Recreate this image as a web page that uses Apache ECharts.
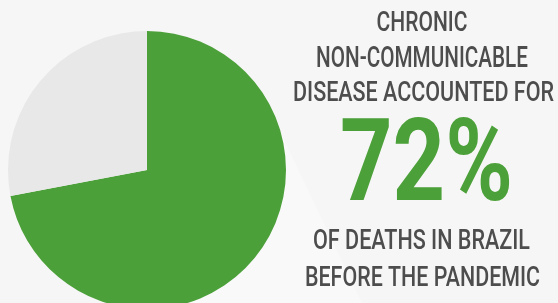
<!DOCTYPE html>
<html>
<head>
    <meta charset="utf-8">
    <script src="https://cdn.jsdelivr.net/npm/echarts@6/dist/echarts.min.js"></script>
    <style>
        html, body { margin: 0; padding: 0; background: #f6f6f6; }
    </style>
</head>
<body>
    <div id="main" style="width: 558px;height:303px;"></div>
    <script>
        // data
        var sliceNames = ['Chronic non-communicable disease', 'Other causes'];
        var sliceValues = [72, 28];
        var sliceColors = ['#4ca039', '#e8e8e8'];
        var headLines = ['CHRONIC', 'NON-COMMUNICABLE', 'DISEASE ACCOUNTED FOR'];
        var bigText = '72%';
        var footLines = ['OF DEATHS IN BRAZIL', 'BEFORE THE PANDEMIC'];

        var ctx = document.createElement('canvas').getContext('2d');
        // squeeze Roboto so it looks like a condensed face, to a target width
        function fitText(text, cx, cy, size, weight, width, color) {
            var font = weight + ' ' + size + 'px Roboto';
            ctx.font = font;
            var w = ctx.measureText(text).width;
            return {
                type: 'text',
                x: cx,
                y: cy,
                scaleX: width / w,
                silent: true,
                style: {
                    text: text,
                    font: font,
                    fill: color,
                    align: 'center',
                    verticalAlign: 'middle'
                }
            };
        }

        var textColor = '#4d4d4d';
        var graphics = [{
            type: 'polygon',
            silent: true,
            z: -1,
            shape: { points: [[265, 100], [362, 303], [150, 303], [150, 170]] },
            style: { fill: '#f9f9f9' }
        }];
        // [cx, capTop, capBottom, width]
        var headBoxes = [[422, 14, 33.5, 91], [422, 49, 70, 212], [423.5, 84, 104, 261]];
        headLines.forEach(function (t, i) {
            var b = headBoxes[i];
            var cap = b[2] - b[1];
            graphics.push(fitText(t, b[0], (b[1] + b[2]) / 2, cap / 0.711, 500, b[3], textColor));
        });
        graphics.push(fitText(bigText, 426.5, 171, 82 / 0.711, 700, 173, sliceColors[0]));
        var footBoxes = [[421.5, 232, 252, 217], [422.5, 269, 288.5, 235]];
        footLines.forEach(function (t, i) {
            var b = footBoxes[i];
            var cap = b[2] - b[1];
            graphics.push(fitText(t, b[0], (b[1] + b[2]) / 2, cap / 0.711, 500, b[3], textColor));
        });

        var myChart = echarts.init(document.getElementById('main'));
        var option = {
            backgroundColor: '#f6f6f6',
            animation: false,
            graphic: graphics,
            series: [{
                type: 'pie',
                center: [147, 170],
                radius: 139,
                startAngle: 90,
                clockwise: true,
                silent: true,
                label: { show: false },
                labelLine: { show: false },
                itemStyle: { borderWidth: 0 },
                data: sliceValues.map(function (v, i) {
                    return { name: sliceNames[i], value: v, itemStyle: { color: sliceColors[i] } };
                })
            }]
        };
        myChart.setOption(option);
    </script>
</body>
</html>
